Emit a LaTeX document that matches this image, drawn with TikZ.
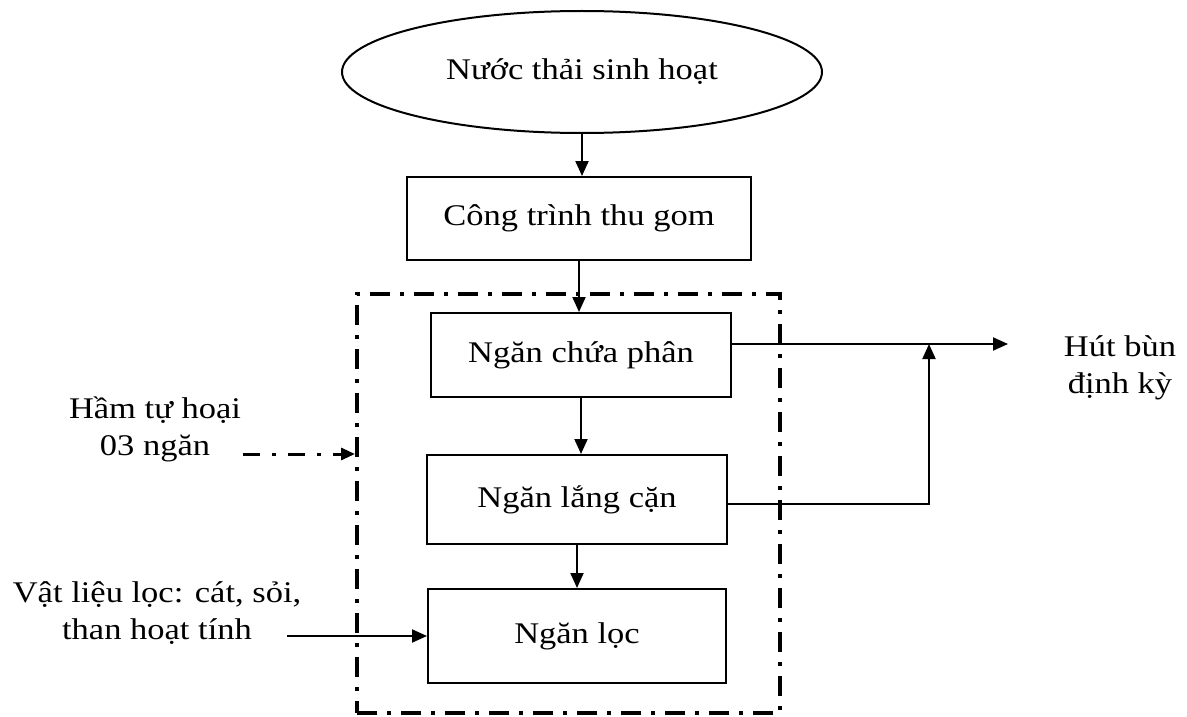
\documentclass[tikz,border=0pt]{standalone}
\usepackage{fontspec}
\setmainfont{Liberation Serif}[FakeStretch=1.15]
\usetikzlibrary{arrows.meta,shapes.geometric}
\begin{document}
\begin{tikzpicture}[x=1pt,y=-1pt,
  every node/.style={font=\fontsize{30pt}{37pt}\selectfont, inner sep=0pt},
  box/.style={draw, line width=2pt, minimum width=#1},
  conn/.style={line width=2pt, -{Triangle[length=15pt,width=13pt]}},
  dashdot/.style={line width=4pt, dash pattern=on 20pt off 10pt on 4pt off 10pt},
  dashdotthin/.style={line width=3pt, dash pattern=on 17pt off 12pt on 4pt off 12pt, -{Triangle[length=14pt,width=12pt]}}
]
\useasboundingbox (0,0) rectangle (1187,717);
% nodes
\node[draw, ellipse, line width=2pt, minimum width=480pt, minimum height=122pt] (src) at (582,72) {Nước thải sinh hoạt};
\node[box=344pt, minimum height=83pt] (ctg) at (579,218.5) {Công trình thu gom};
\node[draw, dashdot, minimum width=423pt, minimum height=419pt] (tank) at (568.5,503.5) {};
\node[box=300pt, minimum height=84pt] (ncp) at (581,355) {Ngăn chứa phân};
\node[box=300pt, minimum height=89pt] (nlc) at (577,499.5) {Ngăn lắng cặn};
\node[box=298pt, minimum height=94pt] (nl) at (577,636) {Ngăn lọc};
\node[align=center] (hut) at (1120,368) {Hút bùn\\định kỳ};
\node[align=center] (ham) at (155,429) {Hầm tự hoại\\03 ngăn};
\node[align=center] (vl) at (157,613) {Vật liệu lọc: cát, sỏi,\\than hoạt tính};
% coordinates
\coordinate (j) at (929,344);
\coordinate (out) at (1008,344);
\coordinate (h0) at (243,454);
\coordinate (v0) at (287,636);
% connectors
\draw[conn] (src.south) -- (src.south |- ctg.north);
\draw[conn] (ctg.south) -- (ctg.south |- ncp.north);
\draw[conn] (ncp.south) -- (ncp.south |- nlc.north);
\draw[conn] (nlc.south) -- (nlc.south |- nl.north);
\draw[conn] (ncp.east |- j) -- (out);
\draw[conn] (nlc.east |- 0,504) -- (j |- 0,504) -- (j);
\draw[dashdotthin] (h0) -- (tank.west |- h0);
\draw[conn] (v0) -- (nl.west);
\end{tikzpicture}
\end{document}
